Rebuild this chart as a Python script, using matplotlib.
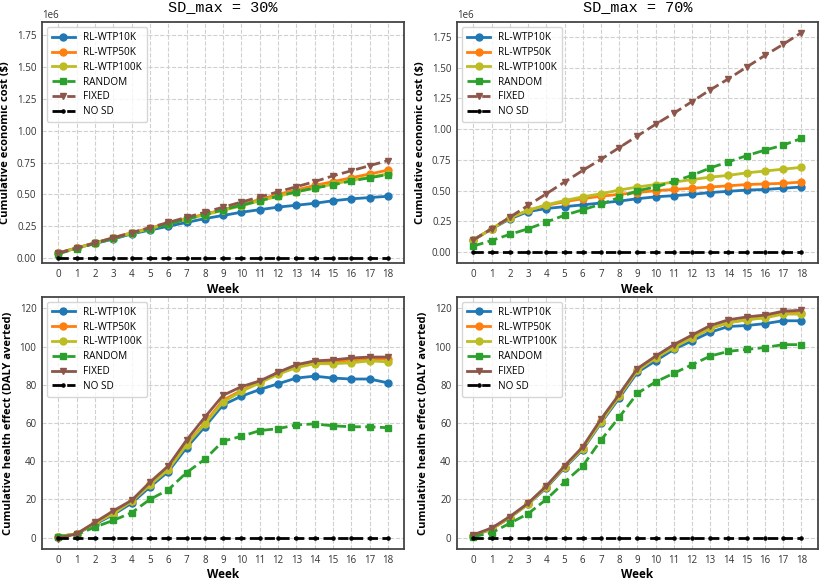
import numpy as np
import matplotlib
matplotlib.use('Agg')
import matplotlib.pyplot as plt

weeks = list(range(19))

# economic cost (x 1e6), SD_max = 30%
cost30_wtp10k = [0.04, 0.08, 0.115, 0.15, 0.19, 0.22, 0.25, 0.28, 0.31, 0.335, 0.36, 0.38, 0.40, 0.415, 0.43, 0.45, 0.465, 0.475, 0.485]
cost30_wtp50k = [0.04, 0.08, 0.12, 0.16, 0.20, 0.235, 0.275, 0.31, 0.345, 0.38, 0.42, 0.46, 0.50, 0.535, 0.57, 0.60, 0.63, 0.66, 0.69]
cost30_wtp100k = [0.04, 0.08, 0.12, 0.155, 0.195, 0.23, 0.27, 0.305, 0.34, 0.375, 0.41, 0.45, 0.485, 0.52, 0.55, 0.58, 0.61, 0.635, 0.66]
cost30_random = [0.035, 0.075, 0.115, 0.155, 0.195, 0.23, 0.265, 0.305, 0.34, 0.38, 0.415, 0.45, 0.485, 0.52, 0.55, 0.575, 0.605, 0.63, 0.655]
cost30_fixed = [0.04, 0.08, 0.12, 0.16, 0.20, 0.24, 0.28, 0.32, 0.36, 0.40, 0.44, 0.48, 0.52, 0.56, 0.60, 0.645, 0.685, 0.725, 0.765]
cost30_nosd = [0.0] * 19

# economic cost (x 1e6), SD_max = 70%
cost70_wtp10k = [0.10, 0.19, 0.27, 0.33, 0.355, 0.37, 0.385, 0.40, 0.415, 0.435, 0.45, 0.46, 0.47, 0.485, 0.495, 0.505, 0.51, 0.52, 0.53]
cost70_wtp50k = [0.10, 0.19, 0.28, 0.34, 0.38, 0.41, 0.435, 0.455, 0.47, 0.485, 0.50, 0.51, 0.52, 0.53, 0.54, 0.55, 0.555, 0.56, 0.57]
cost70_wtp100k = [0.10, 0.19, 0.28, 0.34, 0.385, 0.42, 0.45, 0.475, 0.505, 0.53, 0.55, 0.57, 0.59, 0.61, 0.625, 0.645, 0.66, 0.675, 0.69]
cost70_random = [0.05, 0.095, 0.145, 0.19, 0.245, 0.30, 0.345, 0.39, 0.445, 0.50, 0.53, 0.575, 0.625, 0.685, 0.735, 0.785, 0.83, 0.87, 0.925]
cost70_fixed = [0.10, 0.19, 0.285, 0.38, 0.475, 0.57, 0.665, 0.755, 0.85, 0.945, 1.04, 1.13, 1.225, 1.32, 1.41, 1.505, 1.60, 1.69, 1.785]
cost70_nosd = [0.0] * 19

# health effect (DALY averted), SD_max = 30%
daly30_wtp10k = [0.5, 2, 7, 12, 18, 26.5, 34.5, 47, 58, 69.5, 74, 77.5, 80.5, 83.5, 84.5, 83.5, 83, 83, 81]
daly30_wtp50k = [0.5, 2, 7.5, 13, 19, 28, 36, 49, 60, 72, 77, 81.5, 86, 89.5, 91.5, 92, 93, 93.5, 93.5]
daly30_wtp100k = [0.5, 2, 7.5, 12.5, 19, 27.5, 35.5, 48.5, 59.5, 71, 76.5, 81, 85.5, 89, 91, 91, 91.5, 92.5, 92]
daly30_random = [0.5, 1.5, 5.5, 9, 13, 20, 25, 34, 41, 50.5, 53, 56, 57, 59, 59.5, 58.5, 58, 58, 57.5]
daly30_fixed = [-0.5, 2, 8, 14, 19.5, 29, 37.5, 51, 63, 74.5, 79, 82, 86.5, 90.5, 92.5, 93, 94, 94.5, 94.5]
daly30_nosd = [0.0] * 19

# health effect (DALY averted), SD_max = 70%
daly70_wtp10k = [1, 4.5, 10.5, 17.5, 26, 36.5, 46, 60, 73, 86.5, 92.5, 98.5, 103, 107.5, 110.5, 111, 112, 113.5, 113.5]
daly70_wtp50k = [1, 4.5, 10.5, 18, 26.5, 37, 47, 61, 74, 87.5, 94, 100, 104.5, 109.5, 112.5, 114, 115.5, 117.5, 117.5]
daly70_wtp100k = [1, 4.5, 10.5, 17.5, 26.5, 37, 46.5, 60.5, 74, 87.5, 94, 99.5, 104.5, 109.5, 112.5, 114, 115, 117, 117]
daly70_random = [0.5, 2.5, 7.5, 12.5, 20, 29, 37.5, 51, 63, 75.5, 81.5, 86, 90.5, 95, 97.5, 98.5, 99.5, 101, 101]
daly70_fixed = [1.5, 5, 11, 18, 27, 37.5, 47.5, 62, 75, 88.5, 95, 101, 106, 111, 114, 115.5, 116.5, 118.5, 119]
daly70_nosd = [0.0] * 19

labels = ['RL-WTP10K', 'RL-WTP50K', 'RL-WTP100K', 'RANDOM', 'FIXED', 'NO SD']
colors = ['#1f77b4', '#ff7f0e', '#bcbd22', '#2ca02c', '#8c564b', 'black']
markers = ['o', 'o', 'o', 's', 'v', '.']

plt.rcParams['font.family'] = ['Open Sans', 'DejaVu Sans']

fig = plt.figure(figsize=(8.31, 5.85), dpi=100)
ax_tl = fig.add_axes([0.0505, 0.550, 0.436, 0.412])
ax_tr = fig.add_axes([0.550, 0.550, 0.434, 0.412])
ax_bl = fig.add_axes([0.0505, 0.0615, 0.436, 0.431])
ax_br = fig.add_axes([0.550, 0.0615, 0.434, 0.431])

panels = [
    (ax_tl, [cost30_wtp10k, cost30_wtp50k, cost30_wtp100k, cost30_random, cost30_fixed, cost30_nosd], True),
    (ax_tr, [cost70_wtp10k, cost70_wtp50k, cost70_wtp100k, cost70_random, cost70_fixed, cost70_nosd], True),
    (ax_bl, [daly30_wtp10k, daly30_wtp50k, daly30_wtp100k, daly30_random, daly30_fixed, daly30_nosd], False),
    (ax_br, [daly70_wtp10k, daly70_wtp50k, daly70_wtp100k, daly70_random, daly70_fixed, daly70_nosd], False),
]

for ax, series, is_cost in panels:
    for i, s in enumerate(series):
        ls = '-'
        if i == 3 or i == 5:
            ls = '--'
        if i == 4 and is_cost:
            ls = '--'
        vals = np.array(s) * (1e6 if is_cost else 1)
        ax.plot(weeks, vals, ls=ls, marker=markers[i], color=colors[i],
                lw=2, ms=5 if i < 5 else 4.5, label=labels[i])
    ax.set_xticks(weeks)
    ax.set_xlim(-0.9, 18.9)
    ax.grid(True, ls='--', color='#d0d0d0', lw=0.8)
    ax.tick_params(labelsize=7, length=0, pad=4, colors='#333333')
    for sp in ax.spines.values():
        sp.set_color('#444444')
        sp.set_linewidth(1.3)
    ax.set_xlabel('Week', fontsize=8.5, fontweight='bold', labelpad=2)
    if is_cost:
        ax.set_ylim(-0.09e6, 1.87e6)
        ax.set_ylabel('Cumulative economic cost ($)', fontsize=8, fontweight='bold')
        ax.yaxis.get_offset_text().set_fontsize(7)
    else:
        ax.set_ylim(-6, 126)
        ax.set_ylabel('Cumulative health effect (DALY averted)', fontsize=8, fontweight='bold')
    leg = ax.legend(loc='upper left', fontsize=7.2, frameon=True, fancybox=True,
                    borderpad=0.5, labelspacing=0.38, handlelength=2.3)
    leg.get_frame().set_edgecolor('#cccccc')

ax_tl.set_ylim(-0.04e6, 1.85e6)
ax_tl.set_title('SD_max = 30%', family='Liberation Mono', fontsize=11, pad=8)
ax_tr.set_title('SD_max = 70%', family='Liberation Mono', fontsize=11, pad=8)

fig.savefig('out.png', dpi=100)
